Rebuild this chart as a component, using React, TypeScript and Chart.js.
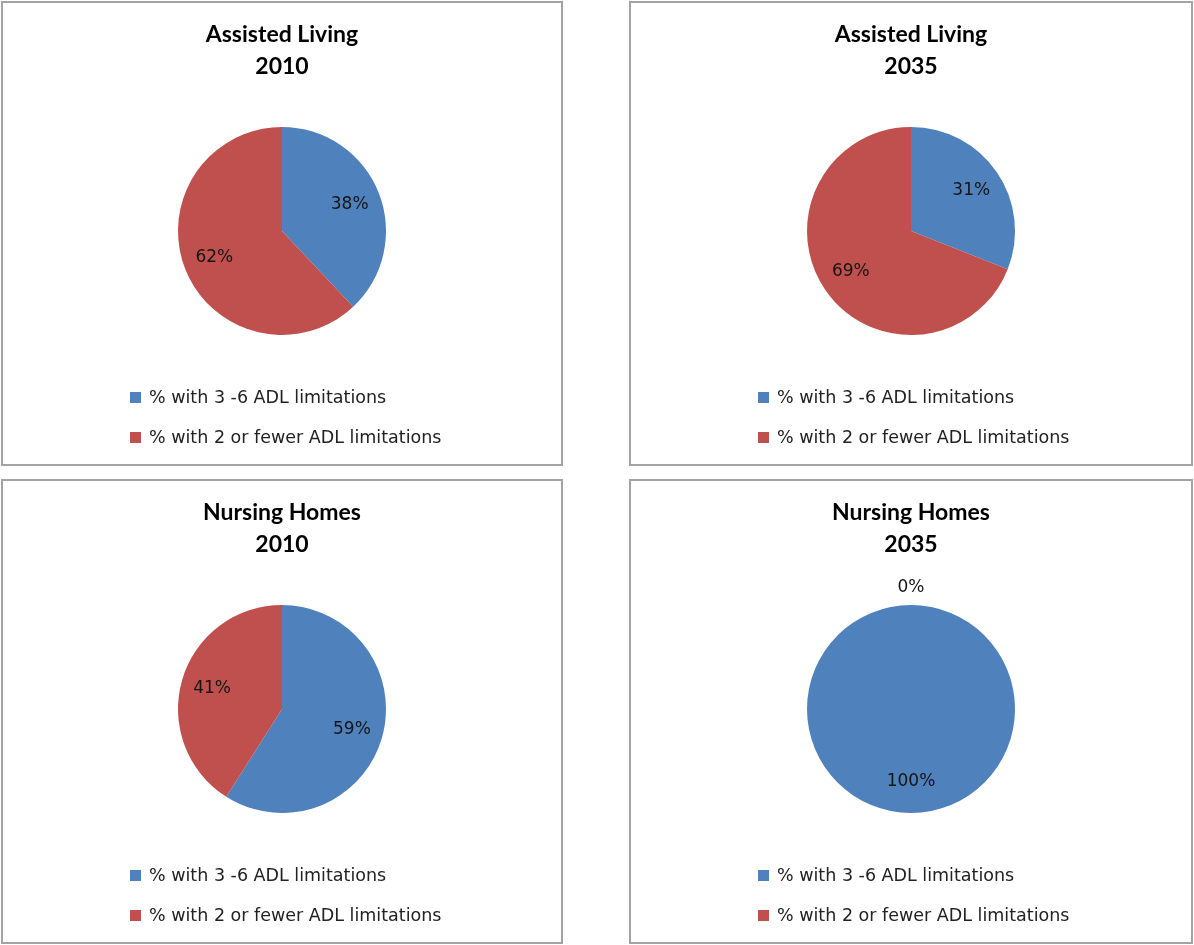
import React, { useEffect, useRef } from "react";
import { Chart, registerables } from "chart.js";

Chart.register(...registerables);

// ---- Data ----
const CATEGORIES = ["% with 3 -6 ADL limitations", "% with 2 or fewer ADL limitations"];
const COLORS = ["#4F81BD", "#C0504D"];

const TITLE_AL_2010 = ["Assisted Living", "2010"];
const TITLE_AL_2035 = ["Assisted Living", "2035"];
const TITLE_NH_2010 = ["Nursing Homes", "2010"];
const TITLE_NH_2035 = ["Nursing Homes", "2035"];

const VALUES_AL_2010 = [38, 62];
const VALUES_AL_2035 = [31, 69];
const VALUES_NH_2010 = [59, 41];
const VALUES_NH_2035 = [100, 0];

// ---- Layout ----
const PANEL_W_LEFT = 562;
const PANEL_W_RIGHT = 564;
const PANEL_H = 465;
const PIE_RADIUS = 104;
const PIE_CENTER_Y = 230;
const TITLE_SIZE = 23;
const TITLE_LH = 1.4;
const TITLE_PAD_TOP = 17;
const TITLE_PAD_BOTTOM = 10;
const LEGEND_X = 129;
const LEGEND_Y = [397, 437];
const LABEL_FONT = "17px 'DejaVu Sans'";
const LEGEND_FONT = "17.5px 'DejaVu Sans'";

const dataLabelsPlugin = {
  id: "pieDataLabels",
  afterDatasetsDraw(chart: any) {
    const ctx = chart.ctx;
    const meta = chart.getDatasetMeta(0);
    const values = chart.data.datasets[0].data as number[];
    ctx.save();
    ctx.font = LABEL_FONT;
    ctx.fillStyle = "#151515";
    ctx.textAlign = "center";
    ctx.textBaseline = "middle";
    meta.data.forEach((arc: any, i: number) => {
      const { x, y, startAngle, endAngle, outerRadius } = arc.getProps(
        ["x", "y", "startAngle", "endAngle", "outerRadius"],
        true
      );
      const mid = (startAngle + endAngle) / 2;
      const v = values[i];
      const d = v === 0 ? outerRadius + 17 : outerRadius * 0.7;
      ctx.fillText(`${v}%`, x + Math.cos(mid) * d, y + Math.sin(mid) * d);
    });
    ctx.restore();
  },
};

const legendPlugin = {
  id: "customLegend",
  afterDraw(chart: any) {
    const ctx = chart.ctx;
    const labels = chart.data.labels as string[];
    const colors = chart.data.datasets[0].backgroundColor as string[];
    ctx.save();
    ctx.font = LEGEND_FONT;
    ctx.textAlign = "left";
    ctx.textBaseline = "middle";
    labels.forEach((lab, i) => {
      const y = LEGEND_Y[i];
      ctx.fillStyle = colors[i];
      ctx.fillRect(LEGEND_X, y - 6, 11, 11);
      ctx.fillStyle = "#222";
      ctx.fillText(lab, LEGEND_X + 19, y);
    });
    ctx.restore();
  },
};

function PiePanel({
  title,
  values,
  left,
  top,
  width,
}: {
  title: string[];
  values: number[];
  left: number;
  top: number;
  width: number;
}) {
  const ref = useRef<HTMLCanvasElement | null>(null);
  useEffect(() => {
    if (!ref.current) return;
    const titleBottom = TITLE_PAD_TOP + title.length * TITLE_SIZE * TITLE_LH + TITLE_PAD_BOTTOM;
    const padBottom = PANEL_H - (2 * PIE_CENTER_Y - titleBottom);
    const chart = new Chart(ref.current, {
      type: "pie",
      data: {
        labels: CATEGORIES,
        datasets: [
          {
            data: values,
            backgroundColor: COLORS,
            borderWidth: 0,
          },
        ],
      },
      options: {
        responsive: false,
        animation: false,
        devicePixelRatio: 1,
        radius: PIE_RADIUS,
        layout: { padding: { top: 0, left: 0, right: 0, bottom: padBottom } },
        plugins: {
          legend: { display: false },
          tooltip: { enabled: false },
          title: {
            display: true,
            text: title,
            color: "#000",
            font: { family: "Lato", weight: "bold", size: TITLE_SIZE, lineHeight: TITLE_LH },
            padding: { top: TITLE_PAD_TOP, bottom: TITLE_PAD_BOTTOM },
          },
        },
      } as any,
      plugins: [dataLabelsPlugin, legendPlugin],
    });
    return () => chart.destroy();
  }, []);
  return (
    <>
      <canvas
        ref={ref}
        width={width}
        height={PANEL_H}
        style={{ position: "absolute", left, top, width, height: PANEL_H }}
      />
      <div
        style={{
          position: "absolute",
          left,
          top,
          width,
          height: PANEL_H,
          border: "2px solid #a3a3a3",
          boxSizing: "border-box",
          pointerEvents: "none",
        }}
      />
    </>
  );
}

export default function App() {
  return (
    <div style={{ position: "absolute", left: 0, top: 0, width: 1194, height: 945, background: "#fff" }}>
      <PiePanel title={TITLE_AL_2010} values={VALUES_AL_2010} left={1} top={1} width={PANEL_W_LEFT} />
      <PiePanel title={TITLE_AL_2035} values={VALUES_AL_2035} left={629} top={1} width={PANEL_W_RIGHT} />
      <PiePanel title={TITLE_NH_2010} values={VALUES_NH_2010} left={1} top={479} width={PANEL_W_LEFT} />
      <PiePanel title={TITLE_NH_2035} values={VALUES_NH_2035} left={629} top={479} width={PANEL_W_RIGHT} />
    </div>
  );
}
